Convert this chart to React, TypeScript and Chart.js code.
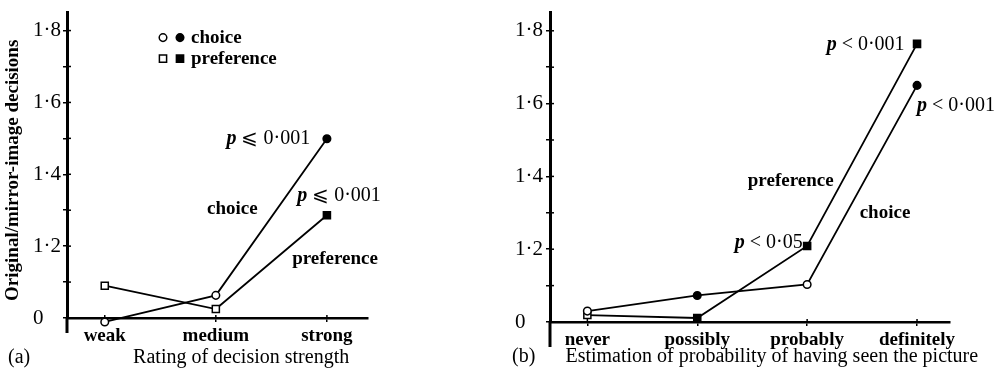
import React, { useEffect, useRef } from "react";
import { Chart, registerables } from "chart.js";
Chart.register(...registerables);

const FONT = "'Liberation Serif', 'DejaVu Serif', serif";

// ---- Panel (a): rating of decision strength ----
const A_CATEGORIES = ["weak", "medium", "strong"];
const A_CHOICE = [0.989, 1.063, 1.499];
const A_PREFERENCE = [1.09, 1.025, 1.286];
const A_CHOICE_SIGNIFICANT = [false, false, true];
const A_PREFERENCE_SIGNIFICANT = [false, false, true];

// ---- Panel (b): estimation of probability of having seen the picture ----
const B_CATEGORIES = ["never", "possibly", "probably", "definitely"];
const B_CHOICE = [1.03, 1.073, 1.103, 1.65];
const B_PREFERENCE = [1.019, 1.011, 1.209, 1.764];
const B_CHOICE_SIGNIFICANT = [false, true, false, true];
const B_PREFERENCE_SIGNIFICANT = [false, true, true, true];

// ---- y axis ticks (axis is broken: the value 1.0 is labelled "0") ----
const Y_TICKS = [1.0, 1.1, 1.2, 1.3, 1.4, 1.5, 1.6, 1.7, 1.8];
const Y_TICK_LABELS = ["0", "", "1·2", "", "1·4", "", "1·6", "", "1·8"];

// ---- text notes, anchored in data coordinates ----
const A_NOTES = [
  { text: "p ⩽ 0·001", x: 1.849, y: 1.499, align: "right", p: true },
  { text: "p ⩽ 0·001", x: 1.732, y: 1.341, align: "left", p: true },
  { text: "choice", x: 0.921, y: 1.302, align: "left", p: false },
  { text: "preference", x: 1.687, y: 1.163, align: "left", p: false },
];
const B_NOTES = [
  { text: "p < 0·001", x: 2.887, y: 1.761, align: "right", p: true },
  { text: "p < 0·001", x: 3.0, y: 1.595, align: "left", p: true },
  { text: "preference", x: 1.46, y: 1.386, align: "left", p: false },
  { text: "choice", x: 2.478, y: 1.299, align: "left", p: false },
  { text: "p < 0·05", x: 1.96, y: 1.217, align: "right", p: true },
];

const LEGEND_ITEMS = ["choice", "preference"];

type PanelCfg = {
  left: number;
  width: number;
  padding: { left: number; top: number; right: number; bottom: number };
  yWidth: number;
  xHeight: number;
  xMin: number;
  xMax: number;
  categories: string[];
  choice: number[];
  preference: number[];
  choiceSig: boolean[];
  preferenceSig: boolean[];
  notes: { text: string; x: number; y: number; align: string; p: boolean }[];
  title: string;
  titleCenter: number;
  titleY: number;
  letter: string;
  letterX: number;
  yTitle?: string;
  legend: boolean;
  axisExt: number;
};

const PANELS: PanelCfg[] = [
  {
    left: 0,
    width: 470,
    padding: { left: 33, top: 7, right: 102, bottom: 0 },
    yWidth: 34,
    xHeight: 57,
    xMin: -0.34,
    xMax: 2.37,
    categories: A_CATEGORIES,
    choice: A_CHOICE,
    preference: A_PREFERENCE,
    choiceSig: A_CHOICE_SIGNIFICANT,
    preferenceSig: A_PREFERENCE_SIGNIFICANT,
    notes: A_NOTES,
    title: "Rating of decision strength",
    titleCenter: 1.228,
    titleY: 358,
    letter: "(a)",
    letterX: 8,
    yTitle: "Original/mirror-image decisions",
    legend: true,
    axisExt: 15,
  },
  {
    left: 470,
    width: 536,
    padding: { left: 45, top: 7, right: 56, bottom: 0 },
    yWidth: 35,
    xHeight: 53,
    xMin: -0.34,
    xMax: 3.3,
    categories: B_CATEGORIES,
    choice: B_CHOICE,
    preference: B_PREFERENCE,
    choiceSig: B_CHOICE_SIGNIFICANT,
    preferenceSig: B_PREFERENCE_SIGNIFICANT,
    notes: B_NOTES,
    title: "Estimation of probability of having seen the picture",
    titleCenter: 1.678,
    titleY: 357,
    letter: "(b)",
    letterX: 42,
    legend: false,
    axisExt: 25,
  },
];

function drawMarker(ctx: CanvasRenderingContext2D, style: string, x: number, y: number, filled: boolean) {
  ctx.save();
  ctx.lineWidth = 1.5;
  ctx.strokeStyle = "#000";
  ctx.fillStyle = filled ? "#000" : "#fff";
  ctx.beginPath();
  if (style === "circle") ctx.arc(x, y, 3.8, 0, Math.PI * 2);
  else ctx.rect(x - 3.6, y - 3.6, 7.2, 7.2);
  ctx.fill();
  ctx.stroke();
  ctx.restore();
}

function makeDecor(cfg: PanelCfg) {
  return {
    id: "decor",
    afterDraw(chart: any) {
      const ctx: CanvasRenderingContext2D = chart.ctx;
      const area = chart.chartArea;
      const xs = chart.scales.x;
      const ys = chart.scales.y;
      ctx.save();
      ctx.strokeStyle = "#000";
      ctx.fillStyle = "#000";
      // inner halves of tick marks
      ctx.lineWidth = 1.5;
      ys.ticks.forEach((t: any) => {
        if (t.value === Y_TICKS[0]) return;
        const py = ys.getPixelForValue(t.value);
        ctx.beginPath();
        ctx.moveTo(area.left, py);
        ctx.lineTo(area.left + 4, py);
        ctx.stroke();
      });
      xs.ticks.forEach((t: any) => {
        const px = xs.getPixelForValue(t.value);
        ctx.beginPath();
        ctx.moveTo(px, area.bottom);
        ctx.lineTo(px, area.bottom - 3);
        ctx.stroke();
      });
      // y axis continues below the x axis
      ctx.lineWidth = 3;
      ctx.beginPath();
      ctx.moveTo(area.left, area.bottom);
      ctx.lineTo(area.left, area.bottom + cfg.axisExt);
      ctx.stroke();

      // x axis title and panel letter
      ctx.font = `20px ${FONT}`;
      ctx.textBaseline = "middle";
      ctx.textAlign = "center";
      ctx.fillText(cfg.title, xs.getPixelForValue(cfg.titleCenter), cfg.titleY);
      ctx.textAlign = "left";
      ctx.fillText(cfg.letter, cfg.letterX, cfg.titleY);

      // y axis title
      if (cfg.yTitle) {
        ctx.save();
        ctx.translate(13, (area.top + area.bottom) / 2 + 5);
        ctx.rotate(-Math.PI / 2);
        ctx.font = `bold 19px ${FONT}`;
        ctx.textAlign = "center";
        ctx.textBaseline = "middle";
        ctx.fillText(cfg.yTitle, 0, 0);
        ctx.restore();
      }

      // legend
      if (cfg.legend) {
        const lx = area.left + 96;
        const ly = area.top + 25;
        LEGEND_ITEMS.forEach((name, i) => {
          const yy = ly + i * 21;
          const style = i === 0 ? "circle" : "rect";
          drawMarker(ctx, style, lx, yy, false);
          drawMarker(ctx, style, lx + 17, yy, true);
          ctx.font = `bold 19px ${FONT}`;
          ctx.textAlign = "left";
          ctx.textBaseline = "middle";
          ctx.fillStyle = "#000";
          ctx.fillText(name, lx + 28, yy);
        });
      }

      // text notes
      cfg.notes.forEach((n) => {
        const px = xs.getPixelForValue(n.x);
        const py = ys.getPixelForValue(n.y);
        ctx.textBaseline = "middle";
        ctx.textAlign = "left";
        if (n.p) {
          const rest = n.text.slice(1);
          ctx.font = `italic bold 20px ${FONT}`;
          const wp = ctx.measureText("p").width;
          ctx.font = `20px ${FONT}`;
          const wr = ctx.measureText(rest).width;
          const start = n.align === "right" ? px - wp - wr : px;
          ctx.font = `italic bold 20px ${FONT}`;
          ctx.fillText("p", start, py);
          ctx.font = `20px ${FONT}`;
          ctx.fillText(rest, start + wp, py);
        } else {
          ctx.font = `bold 19px ${FONT}`;
          ctx.textAlign = n.align === "right" ? "right" : "left";
          ctx.fillText(n.text, px, py);
        }
      });
      ctx.restore();
    },
  };
}

function Panel({ cfg }: { cfg: PanelCfg }) {
  const ref = useRef<HTMLCanvasElement | null>(null);
  useEffect(() => {
    if (!ref.current) return;
    const mk = (vals: number[], sig: boolean[], style: string) => ({
      data: vals.map((v, i) => ({ x: i, y: v })),
      borderColor: "#000",
      borderWidth: 1.8,
      pointStyle: style,
      pointRadius: style === "circle" ? 3.8 : 5,
      pointBorderWidth: 1.5,
      pointBorderColor: "#000",
      pointBackgroundColor: sig.map((s) => (s ? "#000" : "#fff")),
      clip: false,
      tension: 0,
      fill: false,
    });
    const chart = new Chart(ref.current, {
      type: "line",
      data: {
        datasets: [
          mk(cfg.choice, cfg.choiceSig, "circle") as any,
          mk(cfg.preference, cfg.preferenceSig, "rect") as any,
        ],
      },
      plugins: [makeDecor(cfg)],
      options: {
        responsive: false,
        animation: false,
        devicePixelRatio: 1,
        layout: { padding: cfg.padding },
        plugins: { legend: { display: false }, tooltip: { enabled: false } },
        scales: {
          x: {
            type: "linear",
            min: cfg.xMin,
            max: cfg.xMax,
            afterBuildTicks: (s: any) => {
              s.ticks = cfg.categories.map((_, i) => ({ value: i }));
            },
            afterFit: (s: any) => {
              s.height = cfg.xHeight;
            },
            ticks: {
              autoSkip: false,
              maxRotation: 0,
              padding: 3,
              color: "#000",
              font: { family: FONT, size: 19, weight: "bold" },
              callback: (_v: any, i: number) => cfg.categories[i],
            },
            grid: {
              drawOnChartArea: false,
              drawTicks: true,
              tickLength: 4,
              color: "#000",
              lineWidth: 1.5,
            },
            border: { color: "#000", width: 2.5 },
          },
          y: {
            type: "linear",
            min: 1.0,
            max: 1.85,
            afterBuildTicks: (s: any) => {
              s.ticks = Y_TICKS.map((v) => ({ value: v }));
            },
            afterFit: (s: any) => {
              s.width = cfg.yWidth;
            },
            ticks: {
              autoSkip: false,
              padding: 0,
              crossAlign: "far",
              color: "#000",
              font: { family: FONT, size: 21 },
              callback: (_v: any, i: number) => Y_TICK_LABELS[i],
            },
            grid: {
              drawOnChartArea: false,
              drawTicks: true,
              tickLength: 4,
              color: "#000",
              lineWidth: 1.5,
            },
            border: { color: "#000", width: 3 },
          },
        },
      } as any,
    });
    return () => chart.destroy();
  }, [cfg]);
  return (
    <canvas
      ref={ref}
      width={cfg.width}
      height={375}
      style={{ position: "absolute", left: cfg.left, top: 0, width: cfg.width, height: 375 }}
    />
  );
}

export default function App() {
  return (
    <div style={{ position: "absolute", left: 0, top: 0, width: 1006, height: 375, background: "#fff" }}>
      {PANELS.map((p, i) => (
        <Panel key={i} cfg={p} />
      ))}
    </div>
  );
}
